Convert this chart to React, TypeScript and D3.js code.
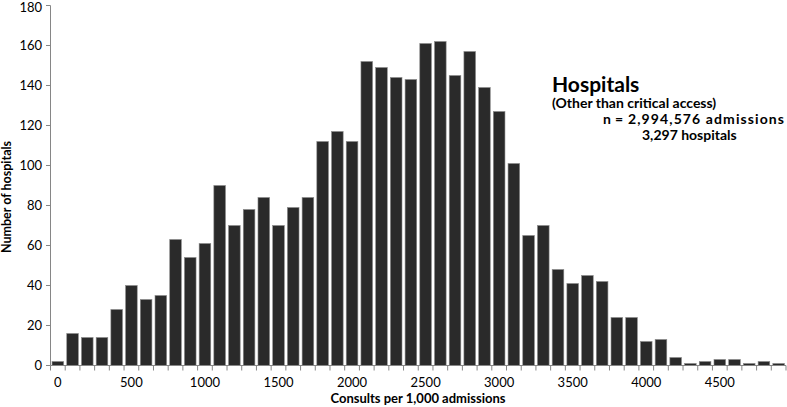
import React from 'react';
import * as d3 from 'd3';

// bins of 100 consults per 1,000 admissions
const binStarts = d3.range(0, 5000, 100);
const hospitalCounts = [
  2, 16, 14, 14, 28, 40, 33, 35, 63, 54,
  61, 90, 70, 78, 84, 70, 79, 84, 112, 117,
  112, 152, 149, 144, 143, 161, 162, 145, 157, 139,
  127, 101, 65, 70, 48, 41, 45, 42, 24, 24,
  12, 13, 4, 1, 2, 3, 3, 1, 2, 1,
];
const yTicks = [0, 20, 40, 60, 80, 100, 120, 140, 160, 180];
const xLabels = [0, 500, 1000, 1500, 2000, 2500, 3000, 3500, 4000, 4500];

const W = 787;
const H = 407;
const font = 'Lato, "Open Sans", sans-serif';

export default function App() {
  const x = d3.scaleBand<number>()
    .domain(binStarts)
    .range([50.5, 786])
    .paddingInner(0.21)
    .paddingOuter(0.105);
  const y = d3.scaleLinear().domain([0, 180]).range([365.5, 5.5]);
  const step = x.step();
  const axisColor = '#868686';

  return (
    <div style={{ position: 'absolute', left: 0, top: 0 }}>
      <svg width={W} height={H} style={{ display: 'block', background: '#fff' }} fontFamily={font}>
        {/* bars */}
        {hospitalCounts.map((v, i) => (
          <rect
            key={i}
            x={x(binStarts[i])}
            y={y(v)}
            width={x.bandwidth()}
            height={y(0) - y(v)}
            fill="#2a2a2a"
            stroke="#8a8a8a"
            strokeWidth={0.6}
          />
        ))}

        {/* y axis */}
        <line x1={50.5} x2={50.5} y1={y(180)} y2={y(0)} stroke={axisColor} />
        {yTicks.map((t) => (
          <g key={t}>
            <line x1={46} x2={50.5} y1={y(t)} y2={y(t)} stroke={axisColor} />
            <text x={42} y={y(t) + (t === 180 ? 1.5 : 0)} dy="0.35em" textAnchor="end" fontSize={13} fill="#000">
              {t}
            </text>
          </g>
        ))}

        {/* x axis */}
        <line x1={50.5} x2={786} y1={y(0)} y2={y(0)} stroke={axisColor} />
        {binStarts.concat([5000]).map((b, i) => {
          const px = 50.5 + i * step;
          return <line key={b} x1={px} x2={px} y1={y(0)} y2={y(0) + 5} stroke={axisColor} />;
        })}
        {xLabels.map((t) => (
          <text key={t} x={(x(t) ?? 0) + x.bandwidth() / 2} y={387} textAnchor="middle" fontSize={13} fill="#000">
            {t}
          </text>
        ))}

        {/* axis titles */}
        <text x={418} y={403} textAnchor="middle" fontSize={13} fontWeight="bold" fill="#000">
          Consults per 1,000 admissions
        </text>
        <text transform="translate(11,197) rotate(-90)" textAnchor="middle" fontSize={12.5} fontWeight="bold" fill="#000">
          Number of hospitals
        </text>

        {/* annotation */}
        <text x={552} y={92} fontSize={21} fontWeight="bold" fill="#000">Hospitals</text>
        <text x={552} y={108} fontSize={14} fontWeight="bold" fill="#000">(Other than critical access)</text>
        <text x={603} y={124} fontSize={14} fontWeight="bold" fill="#000">n</text>
        <text x={615} y={124} fontSize={14} fontWeight="bold" fill="#000">=</text>
        <text x={628} y={124} fontSize={14} fontWeight="bold" fill="#000" textLength={156} lengthAdjust="spacing">
          2,994,576 admissions
        </text>
        <text x={642} y={140} fontSize={14} fontWeight="bold" fill="#000">3,297 hospitals</text>
      </svg>
    </div>
  );
}
